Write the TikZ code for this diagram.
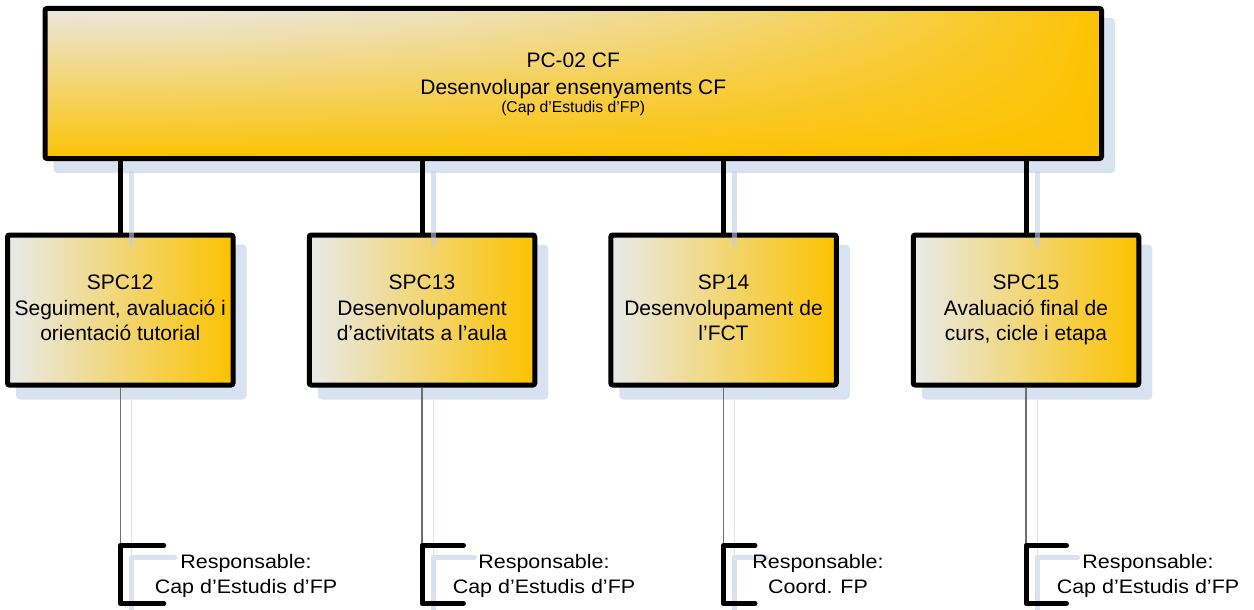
\documentclass[tikz,border=0pt]{standalone}
\usepackage{fontspec}
\setmainfont{Liberation Sans}
\newfontfamily\respfont{Liberation Sans}[FakeStretch=1.1]
\usetikzlibrary{calc,shadows}

\definecolor{gold}{HTML}{FCC200}
\definecolor{paleleft}{HTML}{E8EAEB}
\definecolor{shadowblue}{HTML}{D9E2F1}
\definecolor{shadowline}{HTML}{BFCEE8}
\definecolor{stemgray}{HTML}{6E6E6E}

% two-way fade over the main box (1060pt x 155pt): pale in the upper left
% corner, gold towards the right and the bottom
\pgfdeclarefunctionalshading{pcshade}{\pgfpoint{0pt}{0pt}}{\pgfpoint{1060pt}{155pt}}{}{
  154.45 div exch 1056.1 div
  dup mul 1 exch sub mul
  dup 1 gt {pop 1} if dup 0 lt {pop 0} if
  dup -0.07 mul 0.99 add exch dup 0.15 mul 0.76 add exch 0.88 mul
}

\begin{document}
\begin{tikzpicture}[x=1pt,y=-1pt,
  boxshadow/.style={drop shadow={shadow xshift=11pt,shadow yshift=-12pt,
      fill=shadowblue,draw=shadowblue,opacity=1}},
  pcbox/.style={draw=black,line width=5pt,rounded corners=2pt,
      minimum width=1056.5pt,minimum height=150pt,inner sep=0pt,
      fill=gold,boxshadow,align=center,
      path picture={\node[inner sep=0pt] at (path picture bounding box.center)
        {\pgfuseshading{pcshade}};},
      font=\fontsize{21}{26.7}\selectfont},
  spcbox/.style={draw=black,line width=5pt,rounded corners=2pt,
      minimum width=225.5pt,minimum height=150pt,inner sep=0pt,
      left color=paleleft,right color=gold,boxshadow,align=center,
      font=\fontsize{21}{25.5}\selectfont},
  link/.style={line width=5pt,black},
  linkshadow/.style={line width=5pt,shadowline,line cap=round,opacity=.6},
  stem/.style={line width=1.5pt,stemgray},
  stemshadow/.style={line width=1pt,shadowblue},
  bracket/.style={line width=5pt,line cap=round,line join=round},
  bracketshadow/.style={bracket,draw=shadowblue},
  resp/.style={align=center,inner sep=0pt,font=\respfont\fontsize{19.5}{25.5}\selectfont}
]
\useasboundingbox (0,0) rectangle (1254,610);

% main process
\node[pcbox] (pc) at (573.25,83.5)
  {\strut PC-02 CF\\Desenvolupar ensenyaments CF\\[-9pt]{\fontsize{15.7}{18.5}\selectfont(Cap d’Estudis d’FP)\strut}};

% sub-processes
\node[spcbox] (s12) at (120.25,310) {\strut SPC12\\Seguiment, avaluació i\\orientació tutorial\strut};
\node[spcbox] (s13) at (422,310) {\strut SPC13\\Desenvolupament\\d’activitats a l’aula\strut};
\node[spcbox] (s14) at (723.5,310) {\strut SP14\\Desenvolupament de\\l’FCT\strut};
\node[spcbox] (s15) at (1026,310) {\strut SPC15\\Avaluació final de\\curs, cicle i etapa\strut};

% links from the main process
\foreach \s in {s12,s13,s14,s15}{
  \draw[link] (\s.north |- pc.south) -- (\s.north);
  \draw[linkshadow] ($(\s.north |- pc.south)+(11,12)$) -- ($(\s.north)+(11,12)$);
}

% bracket corners of the responsibility labels
\coordinate (k12) at (120.25,545.5);
\coordinate (k13) at (422,545.5);
\coordinate (k14) at (723.5,545.5);
\coordinate (k15) at (1026,545.5);

% stems and brackets
\foreach \s/\k/\w in {s12/k12/43.5,s13/k13/41.5,s14/k14/31.5,s15/k15/40.5}{
  \draw[stemshadow] ($(\s.south)+(11,12)$) -- ($(\k)+(11,12)$);
  \draw[bracketshadow] ($(\k)+(11+\w,12)$) -- ($(\k)+(11,12)$) -- ++(0,58) -- ++(\w,0);
  \draw[stem] (\s.south) -- (\k);
  \draw[bracket] ($(\k)+(\w,0)$) -- (\k) -- ++(0,58) -- ++(\w,0);
}

% responsibility labels
\node[resp] (r12) at (246,576) {\strut Responsable:\\Cap d’Estudis d’FP\strut};
\node[resp] (r13) at (544,576) {\strut Responsable:\\Cap d’Estudis d’FP\strut};
\node[resp] (r14) at (818,576) {\strut Responsable:\\Coord. FP\strut};
\node[resp] (r15) at (1148,576) {\strut Responsable:\\Cap d’Estudis d’FP\strut};
\end{tikzpicture}
\end{document}
